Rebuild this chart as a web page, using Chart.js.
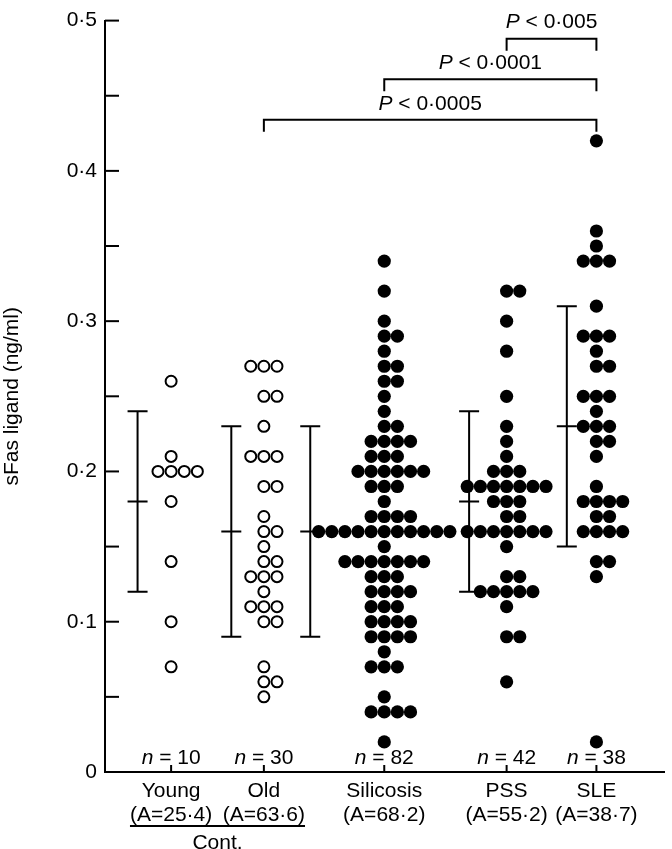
<!DOCTYPE html>
<html>
<head>
<meta charset="utf-8">
<script src="https://cdn.jsdelivr.net/npm/chart.js@4.4.0/dist/chart.umd.min.js"></script>
<style>
  html, body { margin: 0; padding: 0; background: #fff; }
  canvas { display: block; }
</style>
</head>
<body>
<canvas id="sfasChart" width="672" height="849"></canvas>
<script>
// groups along the x axis
const groups = ['Young', 'Old', 'Silicosis', 'PSS', 'SLE'];
const ageLabels = ['(A=25·4)', '(A=63·6)', '(A=68·2)', '(A=55·2)', '(A=38·7)'];
const groupN = [10, 30, 82, 42, 38];

const young = [0.26, 0.21, 0.20, 0.20, 0.20, 0.20, 0.18, 0.14, 0.10, 0.07];
const old = [0.27, 0.27, 0.27, 0.25, 0.25, 0.23, 0.21, 0.21, 0.21, 0.19, 0.19, 0.17, 0.16, 0.16, 0.15,
  0.14, 0.14, 0.13, 0.13, 0.13, 0.12, 0.11, 0.11, 0.11, 0.10, 0.10, 0.07, 0.06, 0.06, 0.05];
const silicosis = [0.34, 0.32, 0.30, 0.29, 0.29, 0.28, 0.27, 0.27, 0.26, 0.26, 0.25, 0.24, 0.23, 0.23,
  0.22, 0.22, 0.22, 0.22, 0.21, 0.21, 0.21, 0.20, 0.20, 0.20, 0.20, 0.20, 0.20, 0.19, 0.19, 0.19, 0.18,
  0.17, 0.17, 0.17, 0.17, 0.16, 0.16, 0.16, 0.16, 0.16, 0.16, 0.16, 0.16, 0.16, 0.16, 0.16, 0.15,
  0.14, 0.14, 0.14, 0.14, 0.14, 0.14, 0.14, 0.13, 0.13, 0.13, 0.12, 0.12, 0.12, 0.12, 0.11, 0.11, 0.11,
  0.10, 0.10, 0.10, 0.10, 0.09, 0.09, 0.09, 0.09, 0.08, 0.07, 0.07, 0.07, 0.05, 0.04, 0.04, 0.04, 0.04, 0.02];
const pss = [0.32, 0.32, 0.30, 0.28, 0.25, 0.23, 0.22, 0.21, 0.20, 0.20, 0.20, 0.19, 0.19, 0.19, 0.19,
  0.19, 0.19, 0.19, 0.18, 0.18, 0.18, 0.17, 0.17, 0.16, 0.16, 0.16, 0.16, 0.16, 0.16, 0.16, 0.15,
  0.13, 0.13, 0.12, 0.12, 0.12, 0.12, 0.12, 0.11, 0.09, 0.09, 0.06];
const sle = [0.42, 0.36, 0.35, 0.34, 0.34, 0.34, 0.31, 0.29, 0.29, 0.29, 0.28, 0.27, 0.27, 0.25, 0.25,
  0.25, 0.24, 0.23, 0.23, 0.23, 0.22, 0.22, 0.21, 0.19, 0.18, 0.18, 0.18, 0.18, 0.17, 0.17, 0.16, 0.16,
  0.16, 0.16, 0.14, 0.14, 0.13, 0.02];

// mean +/- SD drawn beside each group
const means = [0.18, 0.16, 0.16, 0.18, 0.23];
const sds = [0.06, 0.07, 0.07, 0.06, 0.08];

// significance brackets: group indexes and P labels
const bracketFrom = [3, 2, 1];
const bracketTo = [4, 4, 4];
const pLabels = ['0·005', '0·0001', '0·0005'];

// ---- layout (not data) ----
const FONT = "'Liberation Sans', Arial, sans-serif";
const FS = 21;
const X_MAX = 567;
const centers = [67, 161, 283, 407, 498];
const barOffset = [-34, -33, -75, -38, -30];
const bracketLevel = [0.488, 0.461, 0.434];
const DOT_STEP = 13.3;

function swarm(values, cx) {
  const seen = {};
  return values.map(v => {
    const key = v.toFixed(3);
    const k = seen[key] = (seen[key] || 0) + 1;
    const col = k % 2 === 0 ? k / 2 : -(k - 1) / 2;
    return { x: cx + col * DOT_STEP, y: v };
  });
}

function drawLeadItalic(ctx, lead, rest, cx, cy) {
  ctx.font = `italic ${FS}px ${FONT}`;
  const w1 = ctx.measureText(lead).width;
  ctx.font = `${FS}px ${FONT}`;
  const w2 = ctx.measureText(rest).width;
  let x0 = cx - (w1 + w2) / 2;
  ctx.textAlign = 'left';
  ctx.textBaseline = 'middle';
  ctx.font = `italic ${FS}px ${FONT}`;
  ctx.fillText(lead, x0, cy);
  ctx.font = `${FS}px ${FONT}`;
  ctx.fillText(rest, x0 + w1, cy);
}

const extras = {
  id: 'extras',
  afterDraw(chart) {
    const { ctx, scales: { x, y }, chartArea } = chart;
    ctx.save();
    ctx.strokeStyle = '#000';
    ctx.fillStyle = '#000';
    ctx.lineWidth = 2;

    // inward ticks on y axis
    y.ticks.forEach(t => {
      const py = y.getPixelForValue(t.value);
      ctx.beginPath();
      ctx.moveTo(chartArea.left, py);
      ctx.lineTo(chartArea.left + 14, py);
      ctx.stroke();
    });
    // inward ticks on x axis
    centers.forEach(c => {
      const px = x.getPixelForValue(c);
      ctx.beginPath();
      ctx.moveTo(px, chartArea.bottom);
      ctx.lineTo(px, chartArea.bottom - 7);
      ctx.stroke();
    });

    // error bars (mean +/- SD)
    means.forEach((m, i) => {
      const px = x.getPixelForValue(centers[i] + barOffset[i]);
      const top = y.getPixelForValue(m + sds[i]);
      const mid = y.getPixelForValue(m);
      const bot = y.getPixelForValue(m - sds[i]);
      ctx.beginPath();
      ctx.moveTo(px, top); ctx.lineTo(px, bot);
      [top, mid, bot].forEach(py => { ctx.moveTo(px - 10, py); ctx.lineTo(px + 10, py); });
      ctx.stroke();
    });

    // significance brackets
    bracketFrom.forEach((f, i) => {
      const x1 = x.getPixelForValue(centers[f]);
      const x2 = x.getPixelForValue(centers[bracketTo[i]]);
      const py = y.getPixelForValue(bracketLevel[i]);
      ctx.beginPath();
      ctx.moveTo(x1, py + 12); ctx.lineTo(x1, py); ctx.lineTo(x2, py); ctx.lineTo(x2, py + 12);
      ctx.stroke();
      drawLeadItalic(ctx, 'P', ' < ' + pLabels[i], (x1 + x2) / 2, py - 16);
    });

    // n = ... above the axis
    groupN.forEach((n, i) => {
      drawLeadItalic(ctx, 'n', ' = ' + n, x.getPixelForValue(centers[i]), chartArea.bottom - 14);
    });

    // "Cont." bracket under the two control groups
    ctx.font = `${FS}px ${FONT}`;
    const wl = ctx.measureText(ageLabels[0]).width;
    const wr = ctx.measureText(ageLabels[1]).width;
    const ul = x.getPixelForValue(centers[0]) - wl / 2;
    const ur = x.getPixelForValue(centers[1]) + wr / 2;
    const uy = chartArea.bottom + 54;
    ctx.beginPath();
    ctx.moveTo(ul, uy); ctx.lineTo(ur, uy);
    ctx.stroke();
    ctx.textAlign = 'center';
    ctx.textBaseline = 'middle';
    ctx.fillText('Cont.', (x.getPixelForValue(centers[0]) + x.getPixelForValue(centers[1])) / 2, chartArea.bottom + 71);
    ctx.restore();
  }
};

const groupValues = [young, old, silicosis, pss, sle];
const datasets = groupValues.map((vals, i) => {
  const open = i < 2;
  return {
    label: groups[i],
    data: swarm(vals, centers[i]),
    pointRadius: open ? 5.5 : 6.6,
    pointBorderWidth: open ? 2 : 0,
    pointBorderColor: '#000',
    pointBackgroundColor: open ? '#fff' : '#000',
    showLine: false
  };
});

Chart.defaults.font.family = FONT;
Chart.defaults.font.size = FS;
Chart.defaults.color = '#000';

new Chart(document.getElementById('sfasChart'), {
  type: 'scatter',
  data: { datasets: datasets },
  options: {
    responsive: false,
    animation: false,
    layout: { padding: { top: 10, right: 0, left: 0, bottom: 0 } },
    plugins: { legend: { display: false }, tooltip: { enabled: false } },
    scales: {
      x: {
        type: 'linear',
        min: 0,
        max: X_MAX,
        grid: { display: false, drawTicks: false },
        border: { display: true, color: '#000', width: 2 },
        afterBuildTicks: scale => { scale.ticks = centers.map(c => ({ value: c })); },
        afterFit: scale => { scale.height = 77; },
        ticks: {
          autoSkip: false,
          maxRotation: 0,
          padding: 7,
          font: { size: FS, lineHeight: 1.15 },
          callback: (v, i) => [groups[i], ageLabels[i]]
        }
      },
      y: {
        min: 0,
        max: 0.5,
        grid: { display: false, drawTicks: false },
        border: { display: true, color: '#000', width: 2 },
        afterFit: scale => { scale.width = 105; },
        title: { display: true, text: 'sFas ligand (ng/ml)', padding: 0, font: { size: FS } },
        ticks: {
          stepSize: 0.05,
          maxTicksLimit: 20,
          padding: 8,
          callback: v => {
            const k = Math.round(v * 100);
            if (k % 10 !== 0) return '';
            return k === 0 ? '0' : '0·' + (k / 10);
          }
        }
      }
    }
  },
  plugins: [extras]
});
</script>
</body>
</html>
